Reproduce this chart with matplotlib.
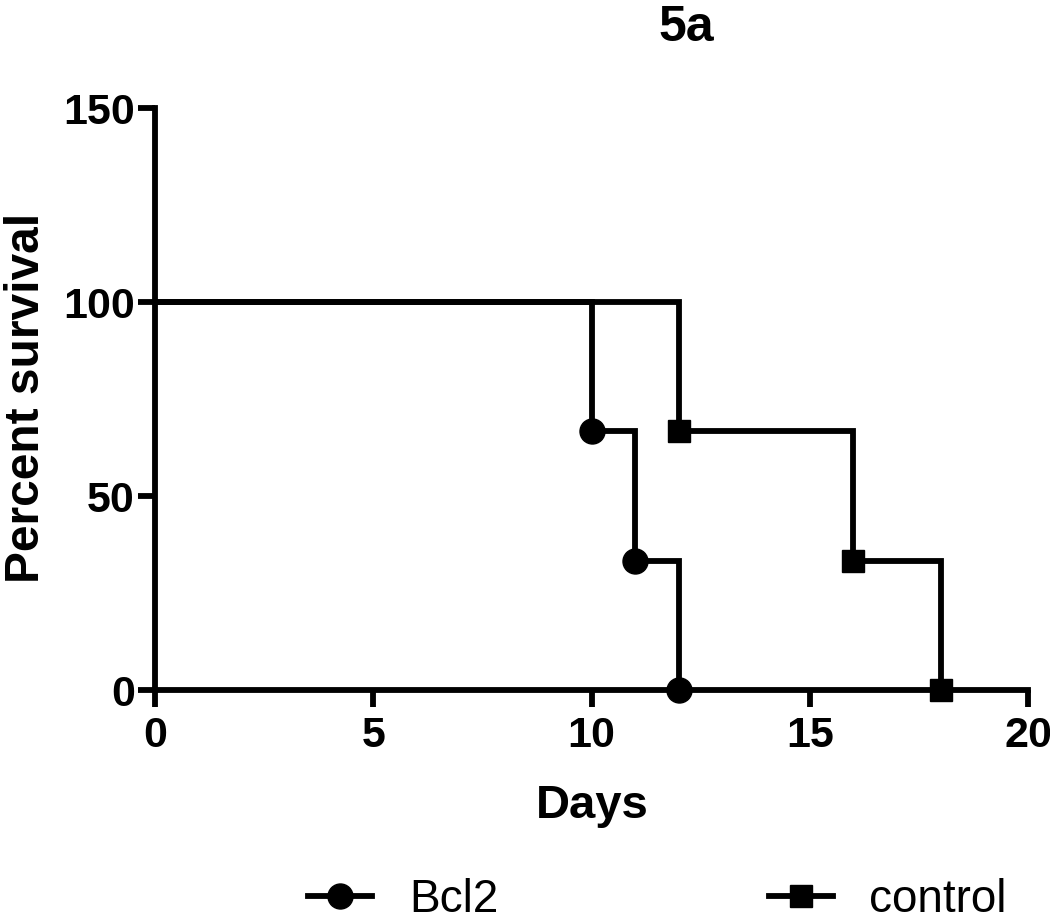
import matplotlib
matplotlib.use('Agg')
from matplotlib import pyplot as plt
from matplotlib.lines import Line2D

plt.rcParams['font.family'] = ['Liberation Sans', 'DejaVu Sans']

# Kaplan-Meier data
bcl2_days = [0, 10, 11, 12]
bcl2_surv = [100, 66.67, 33.33, 0]
control_days = [0, 12, 16, 18]
control_surv = [100, 66.67, 33.33, 0]

x_ticks = [0, 5, 10, 15, 20]
y_ticks = [0, 50, 100, 150]

fig = plt.figure(figsize=(10.5, 9.21), dpi=100)
ax = fig.add_axes([155 / 1050, 1 - 690 / 921, (1028 - 155) / 1050, (690 - 108) / 921])

lw = 4.2
ax.step(bcl2_days, bcl2_surv, where='post', color='black', lw=lw, clip_on=False, solid_joinstyle='miter')
ax.plot(bcl2_days[1:], bcl2_surv[1:], 'o', color='black', ms=18, clip_on=False, zorder=5)
ax.step(control_days, control_surv, where='post', color='black', lw=lw, clip_on=False, solid_joinstyle='miter')
ax.plot(control_days[1:], control_surv[1:], 's', color='black', ms=16.5, clip_on=False, zorder=5)

ax.set_xlim(0, 20)
ax.set_ylim(0, 150)
ax.set_xticks(x_ticks)
ax.set_yticks(y_ticks)
for s in ['top', 'right']:
    ax.spines[s].set_visible(False)
for s in ['left', 'bottom']:
    ax.spines[s].set_linewidth(lw)
    ax.spines[s].set_capstyle('projecting')
ax.tick_params(width=lw, length=12.5, labelsize=31)
ax.tick_params(axis='x', pad=6)
ax.tick_params(axis='y', pad=2)
for lab in ax.get_xticklabels() + ax.get_yticklabels():
    lab.set_fontweight('bold')

ax.set_xlabel('Days', fontsize=34, fontweight='bold', va='baseline')
ax.xaxis.set_label_coords((592 - 155) / (1028 - 155), -(818 - 690) / (690 - 108))
ax.set_ylabel('Percent survival', fontsize=34.5, fontweight='bold', va='center')
ax.yaxis.set_label_coords(-(155 - 27) / (1028 - 155), (690 - 398) / (690 - 108))
fig.text(686 / 1050, 1 - 41 / 921, '5a', fontsize=36, fontweight='bold', ha='center', va='baseline')

h1 = Line2D([], [], color='black', lw=lw, marker='o', ms=18)
h2 = Line2D([], [], color='black', lw=lw, marker='s', ms=16.5)
fig.legend([h1, h2], ['Bcl2', 'control'], loc='center left', bbox_to_anchor=(308 / 1050, 1 - 900 / 921),
           ncol=2, frameon=False, fontsize=33, columnspacing=5.9, handlelength=1.4, handletextpad=0.8,
           borderpad=0, borderaxespad=0)

fig.savefig('out.png', dpi=100)
